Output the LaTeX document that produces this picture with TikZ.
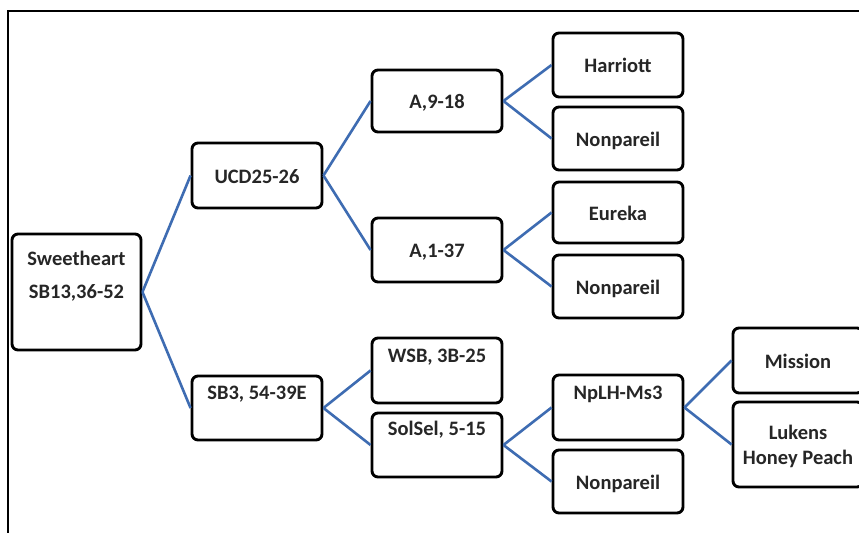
\documentclass[tikz,border=0pt]{standalone}
\usepackage{fontspec}
\setmainfont{Carlito}
\definecolor{linkblue}{RGB}{62,108,178}
\tikzset{
  box/.style={draw=black, line width=2.9pt, rounded corners=6pt, fill=white, minimum width=130pt, minimum height=64pt, inner sep=0pt},
  txt/.style={font=\fontsize{20.5pt}{25pt}\selectfont\bfseries, text=black!85, inner sep=0pt, align=center},
  link/.style={draw=linkblue, line width=2.6pt}
}
\begin{document}
\begin{tikzpicture}[x=1pt,y=-1pt]
\clip (0,0) rectangle (859,533);
\fill[white] (0,0) rectangle (859,533);
\draw[line width=1.8pt] (859,11) -- (8,11) -- (8,533);

% boxes
\node[box, minimum width=129pt, minimum height=116pt] (sw) at (76.5,292) {};
\node[box] (ucd) at (257,175.5) [minimum height=65pt] {};
\node[box] (sb3) at (257,408) {};
\node[box, minimum height=62pt] (a918) at (437,101) {};
\node[box] (a137) at (437,250) {};
\node[box, minimum height=65pt] (wsb) at (437,370.5) {};
\node[box] (sol) at (437,445) {};
\node[box] (har) at (618,65) {};
\node[box, minimum height=63pt] (np1) at (618,138.5) {};
\node[box, minimum height=61pt] (eur) at (618,212.5) {};
\node[box, minimum height=63pt] (np2) at (618,286.5) {};
\node[box, minimum height=65pt] (nplh) at (618,407.5) {};
\node[box, minimum height=63pt] (np3) at (618,481.5) {};
\node[box, minimum height=65pt] (mis) at (798,360.5) {};
\node[box, minimum height=85pt] (luk) at (798,444.5) {};

% texts
\node[txt, anchor=base] at (76.5,265) {Sweetheart};
\node[txt, anchor=base] at (76.5,298) {SB13,36-52};
\node[txt, anchor=base] at (257,183) {UCD25-26};
\node[txt, anchor=base] at (257,399) {SB3, 54-39E};
\node[txt, anchor=base] at (437,108) {A,9-18};
\node[txt, anchor=base] at (437,257) {A,1-37};
\node[txt, anchor=base] at (437,362) {WSB, 3B-25};
\node[txt, anchor=base] at (437,435) {SolSel, 5-15};
\node[txt, anchor=base] at (618,72) {Harriott};
\node[txt, anchor=base] at (618,146) {Nonpareil};
\node[txt, anchor=base] at (618,220) {Eureka};
\node[txt, anchor=base] at (618,294) {Nonpareil};
\node[txt, anchor=base] at (618,399) {NpLH-Ms3};
\node[txt, anchor=base] at (618,489) {Nonpareil};
\node[txt, anchor=base] at (798,368) {Mission};
\node[txt, anchor=base] at (798,439) {Lukens};
\node[txt, anchor=base] at (798,464) {Honey Peach};

% connectors
\draw[link] (sw.east) -- (ucd.west);
\draw[link] (sw.east) -- (sb3.west);
\draw[link] (ucd.east) -- (a918.west);
\draw[link] (ucd.east) -- (a137.west);
\draw[link] (sb3.east) -- (wsb.west);
\draw[link] (sb3.east) -- (sol.west);
\draw[link] (a918.east) -- (har.west);
\draw[link] (a918.east) -- (np1.west);
\draw[link] (a137.east) -- (eur.west);
\draw[link] (a137.east) -- (np2.west);
\draw[link] (sol.east) -- (nplh.west);
\draw[link] (sol.east) -- (np3.west);
\draw[link] (nplh.east) -- (mis.west);
\draw[link] (nplh.east) -- (luk.west);
\end{tikzpicture}
\end{document}
